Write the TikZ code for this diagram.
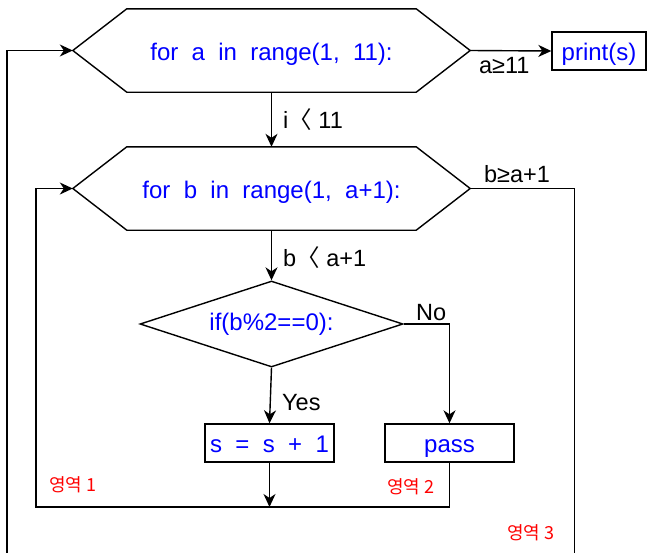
\documentclass[tikz,border=0pt]{standalone}
\usepackage{fontspec}
\setmainfont{Liberation Sans}
\newfontfamily\krfont{Noto Sans CJK KR}
\newfontfamily\codefont[WordSpace=2]{Liberation Sans}
\usetikzlibrary{shapes.geometric, arrows.meta, positioning}
\definecolor{codeblue}{RGB}{0,0,255}
\definecolor{zonered}{RGB}{255,0,0}
\tikzset{
  hexbox/.style={rectangle, minimum width=289pt, minimum height=83pt,
    inner sep=0pt, text height=20pt, text depth=1pt, text=codeblue,
    font=\codefont\fontsize{24}{28}\selectfont},
  codebox/.style={rectangle, draw, line width=1.4pt, minimum width=129pt,
    minimum height=38pt, inner sep=0pt, text height=20pt, text depth=2pt,
    text=codeblue, font=\codefont\fontsize{24}{28}\selectfont},
  decision/.style={diamond, draw, line width=1.4pt, aspect=3.06,
    minimum width=263pt, minimum height=86pt, inner sep=0pt, text=codeblue,
    font=\fontsize{24}{28}\selectfont},
  arrow/.style={-{Stealth[length=13pt,width=12pt,inset=4pt]}, line width=1.4pt},
  line/.style={line width=1.4pt, line join=miter},
  lbl/.style={font=\fontsize{23.5}{26}\selectfont, inner sep=3pt},
  zone/.style={text=zonered, font=\krfont\fontsize{18}{20}\selectfont}
}

\begin{document}
\begin{tikzpicture}[x=1pt, y=-1pt]
  \useasboundingbox (0,0) rectangle (647,552);
  \clip (0,0) rectangle (647,552);

  \node[hexbox] (fa) at (271.5,50.5) {for a in range(1, 11):};
  \node[hexbox] (fb) at (271.5,188.5) {for b in range(1, a+1):};
  \node[codebox, minimum width=94pt] (pr) at (599,51) {print(s)};
  \node[decision] (ifb) at (271.5,324) {if(b\%2==0):};
  \node[codebox] (s1) at (269.5,443) {s = s + 1};
  \node[codebox] (ps) at (449.5,443) {pass};

  % hexagon frames of the two loops
  \foreach \h in {fa,fb} {
    \coordinate (\h-l) at ([xshift=-54pt]\h.west);
    \coordinate (\h-r) at ([xshift=54pt]\h.east);
    \draw[line] (\h.north west) -- (\h.north east) -- (\h-r)
      -- (\h.south east) -- (\h.south west) -- (\h-l) -- cycle;
  }
  \coordinate (inbot) at (36,507);

  \draw[arrow] (fa.south) -- node[lbl, right, xshift=8pt] {i{\krfont 〈} 11} (fb.north);
  \draw[arrow] (fa-r) -- node[lbl, below, pos=.42, yshift=-3pt] {a≥11} (pr.west);
  \draw[arrow] (fb.south) -- node[lbl, right, xshift=8pt, yshift=-2pt] {b{\krfont 〈} a+1} (ifb.north);
  \draw[arrow] (ifb.south) -- node[lbl, right, xshift=8pt, yshift=-7pt] {Yes} (s1.north);
  \draw[arrow] (ifb.east) -| node[lbl, above, pos=.3] {No} (ps.north);
  \draw[arrow] (s1.south) -- (s1.south |- inbot);

  % loop back edges
  \draw[arrow] (ps.south) |- (inbot) |- (fb-l);
  \draw[arrow] (fb-r) -- node[lbl, above, pos=.45, yshift=2pt] {b≥a+1} ++(104,0)
    |- (7,570) |- (fa-l);

  \node[zone] (z1) at (73,485) {영역 1};
  \node[zone] (z2) at (411,487) {영역 2};
  \node[zone] (z3) at (531,533) {영역 3};
\end{tikzpicture}
\end{document}
